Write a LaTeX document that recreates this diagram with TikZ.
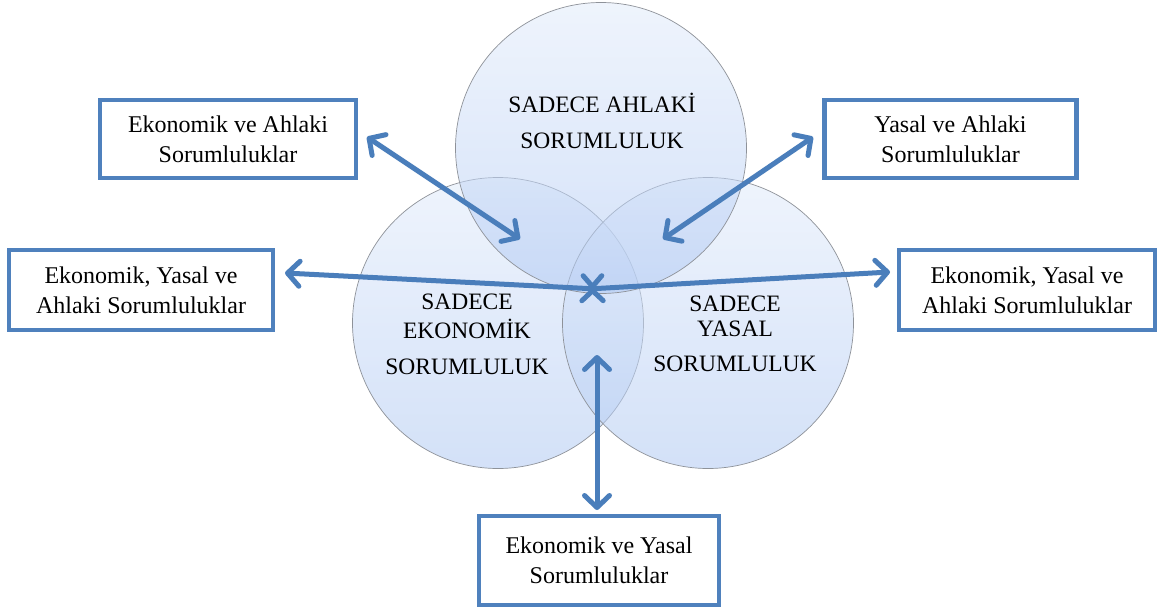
\documentclass[tikz,border=0pt]{standalone}
\usepackage{fontspec}
\setmainfont{Liberation Serif}
\usetikzlibrary{arrows.meta}
\definecolor{arrowblue}{HTML}{4A7EBB}
\definecolor{boxblue}{HTML}{4F81BD}
\definecolor{circtop}{HTML}{E2ECFB}
\definecolor{circbot}{HTML}{B0C9F3}
\definecolor{circedge}{HTML}{8E9299}
\begin{document}
\begin{tikzpicture}[x=1pt,y=-1pt,
  venn/.style={circle, minimum size=291pt, inner sep=0pt, draw=circedge, line width=0.7pt,
    top color=circtop, bottom color=circbot, fill opacity=0.55, draw opacity=1},
  vtext/.style={align=center, inner sep=0pt, font=\fontsize{23.5}{36}\selectfont},
  box/.style={draw=boxblue, line width=4.5pt, fill=white, align=center, inner sep=0pt,
    font=\fontsize{24}{30}\selectfont},
  arr/.style={draw=arrowblue, line width=5pt, line cap=round,
    {Straight Barb[length=12pt,width=25pt,round]}-{Straight Barb[length=12pt,width=25pt,round]}}
]
\fill[white] (0,0) rectangle (1159,613);
\useasboundingbox (0,0) rectangle (1159,613);

% circles
\node[venn] (cL) at (498,323) {};
\node[venn] (cR) at (708,323) {};
\node[venn] (cT) at (601,148) {};

% circle texts
\node[vtext] (tT) at (602,121) {SADECE AHLAKİ\\SORUMLULUK};
\node[vtext, font=\fontsize{23.5}{29}\selectfont] (tL) at (467,334) {SADECE\\EKONOMİK\\[7pt]SORUMLULUK};
\node[vtext, font=\fontsize{23.5}{25}\selectfont] (tR) at (735,334) {SADECE\\YASAL\\[10pt]SORUMLULUK};

% boxes
\node[box, minimum width=256pt, minimum height=78pt] (bTL) at (228,139) {Ekonomik ve Ahlaki\\Sorumluluklar};
\node[box, minimum width=252pt, minimum height=78pt] (bTR) at (950.5,139) {Yasal ve Ahlaki\\Sorumluluklar};
\node[box, minimum width=264pt, minimum height=80pt] (bML) at (141,290) {Ekonomik, Yasal ve\\Ahlaki Sorumluluklar};
\node[box, minimum width=256pt, minimum height=80pt] (bMR) at (1027,290) {Ekonomik, Yasal ve\\Ahlaki Sorumluluklar};
\node[box, minimum width=240pt, minimum height=89pt] (bB) at (599,560.5) {Ekonomik ve Yasal\\Sorumluluklar};

% arrow end points
\coordinate (pTL) at (367,137);
\coordinate (qTL) at (520,239);
\coordinate (pTR) at (813,137);
\coordinate (qTR) at (663,239);
\coordinate (pML) at (285,273);
\coordinate (qML) at (597,289);
\coordinate (pMR) at (890,272);
\coordinate (qMR) at (588,289);
\coordinate (pB) at (597,510);
\coordinate (qB) at (597,355);

\draw[arr] (pTL) -- (qTL);
\draw[arr] (pTR) -- (qTR);
\draw[arr] (pML) -- (qML);
\draw[arr] (pMR) -- (qMR);
\draw[arr] (pB) -- (qB);
\end{tikzpicture}
\end{document}
